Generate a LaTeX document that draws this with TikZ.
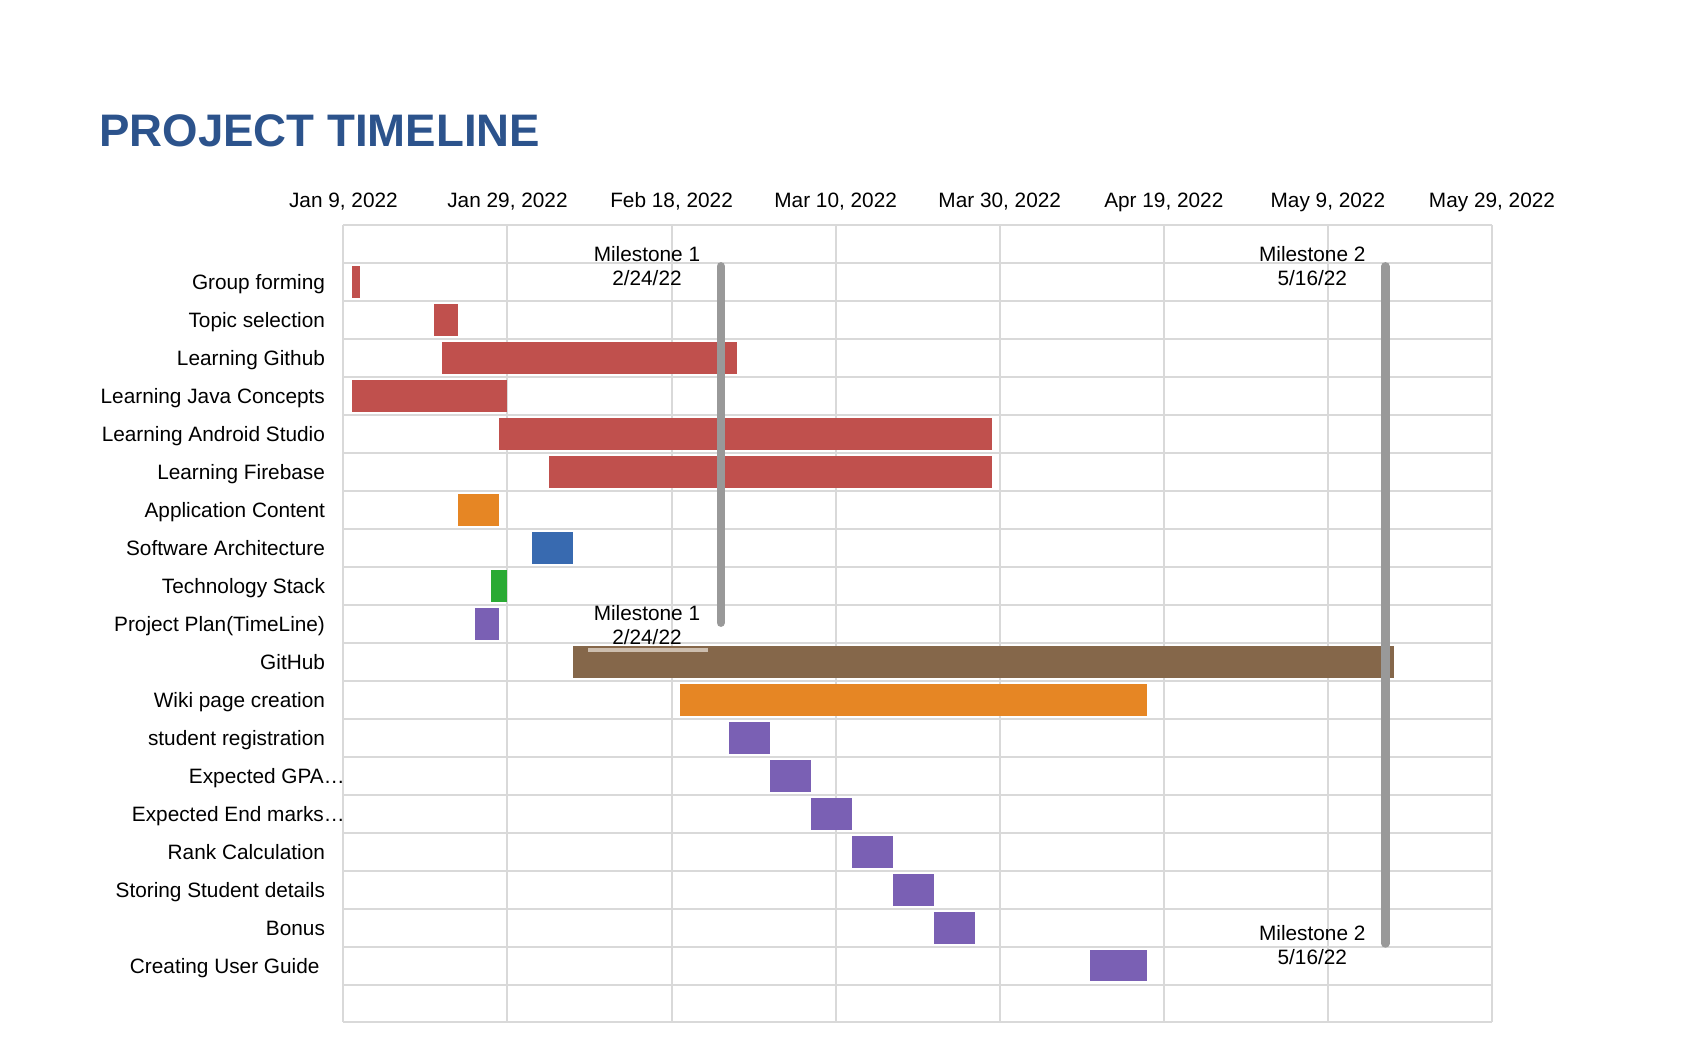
\documentclass[tikz,border=0pt]{standalone}
\usepackage{fontspec}
\setmainfont{Liberation Sans}
\usepackage{xcolor}

\definecolor{titleblue}{RGB}{44,83,140}
\definecolor{gridgray}{RGB}{217,217,217}
\definecolor{barred}{RGB}{192,80,77}
\definecolor{barorange}{RGB}{230,134,36}
\definecolor{barblue}{RGB}{56,106,176}
\definecolor{bargreen}{RGB}{42,170,52}
\definecolor{barpurple}{RGB}{122,96,180}
\definecolor{barbrown}{RGB}{133,103,74}
\definecolor{milegray}{RGB}{153,153,153}
\definecolor{striptan}{RGB}{205,190,175}

\begin{document}
\begin{tikzpicture}[x=0.5pt, y=-0.5pt,
    lbl/.style={font=\fontsize{10.4}{11.9}\selectfont, inner sep=0pt},
    gridline/.style={draw=gridgray, line width=1pt},
    mileline/.style={draw=milegray, line width=4.2pt, line cap=round}]
    \useasboundingbox (0,0) rectangle (1688,1043);

    % Title
    \node[anchor=base west, inner sep=0pt, text=titleblue,
          font=\fontsize{22.8}{26}\selectfont\bfseries] (title) at (99,147) {PROJECT TIMELINE};

    % Chart: one x unit = one day from Jan 9, one y unit = one row
    \begin{scope}[shift={(343.4,225.3)}, x=4.102pt, y=-18.98pt]
        % Grid
        \foreach \r in {0,...,21} {
            \draw[gridline] (0,\r) -- (140,\r);
        }
        \foreach \d in {0,20,...,140} {
            \draw[gridline] (\d,0) -- (\d,21);
        }

        % Date axis
        \foreach \d/\lab [count=\i] in {0/{Jan 9, 2022}, 20/{Jan 29, 2022}, 40/{Feb 18, 2022},
                60/{Mar 10, 2022}, 80/{Mar 30, 2022}, 100/{Apr 19, 2022},
                120/{May 9, 2022}, 140/{May 29, 2022}} {
            \node[lbl, anchor=base] (tick\i) at (\d,-0.46) {\lab};
        }

        % Tasks
        \foreach \r/\s/\e/\c/\txt/\lx in {
                1/1/2/barred/Group forming/-2.2,
                2/11/14/barred/Topic selection/-2.2,
                3/12/48/barred/Learning Github/-2.2,
                4/1/20/barred/Learning Java Concepts/-2.2,
                5/19/79/barred/Learning Android Studio/-2.2,
                6/25/79/barred/Learning Firebase/-2.2,
                7/14/19/barorange/Application Content/-2.2,
                8/23/28/barblue/Software Architecture/-2.2,
                9/18/20/bargreen/Technology Stack/-2.2,
                10/16/19/barpurple/Project Plan(TimeLine)/-2.2,
                11/28/128/barbrown/GitHub/-2.2,
                12/41/98/barorange/Wiki page creation/-2.2,
                13/47/52/barpurple/student registration/-2.2,
                14/52/57/barpurple/Expected GPA…/0.2,
                15/57/62/barpurple/Expected End marks…/0.2,
                16/62/67/barpurple/Rank Calculation/-2.2,
                17/67/72/barpurple/Storing Student details/-2.2,
                18/72/77/barpurple/Bonus/-2.2,
                19/91/98/barpurple/Creating User Guide/-2.86} {
            \fill[\c] (\s,\r+0.08) rectangle (\e,\r+0.92);
            \node[lbl, anchor=base east] (task\r) at (\lx,\r+0.7) {\txt};
        }
        \fill[striptan] (29.8,11.13) rectangle (44.4,11.24);

        % Milestones
        \coordinate (m1top) at (46,1.08);
        \coordinate (m1bot) at (46,10.47);
        \coordinate (m2top) at (127,1.08);
        \coordinate (m2bot) at (127,18.92);
        \draw[mileline] (m1top) -- (m1bot);
        \draw[mileline] (m2top) -- (m2bot);
        \node[lbl, align=center] (m1upper) at (37,1.08) {Milestone 1\\2/24/22};
        \node[lbl, align=center] (m1lower) at (37,10.53) {Milestone 1\\2/24/22};
        \node[lbl, align=center] (m2upper) at (118.1,1.08) {Milestone 2\\5/16/22};
        \node[lbl, align=center] (m2lower) at (118.1,18.97) {Milestone 2\\5/16/22};
    \end{scope}
\end{tikzpicture}
\end{document}
